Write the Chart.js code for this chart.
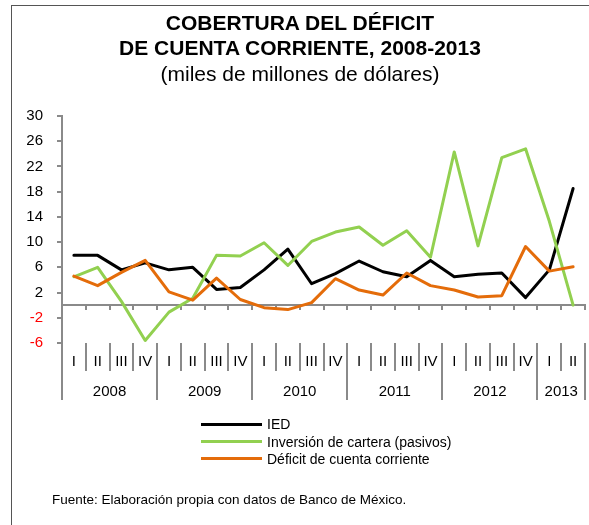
<!DOCTYPE html>
<html>
<head>
<meta charset="utf-8">
<script src="https://cdn.jsdelivr.net/npm/chart.js@4.4.1/dist/chart.umd.min.js"></script>
<style>
  html, body { margin: 0; padding: 0; background: #ffffff; }
  #wrap { position: relative; width: 589px; height: 525px; overflow: hidden; font-family: "Liberation Sans", Arial, sans-serif; color: #000; }
  #frame { position: absolute; left: 11px; top: 5px; width: 700px; height: 700px; border-left: 1px solid #555; border-top: 1px solid #555; }
  #c { position: absolute; left: 0; top: 0; }
  .tl { position: absolute; left: 0; width: 600px; text-align: center; white-space: nowrap; font-size: 21px; line-height: 26px; }
  .b { font-weight: bold; }
  .lg { position: absolute; left: 201px; height: 16px; white-space: nowrap; font-size: 14px; line-height: 16px; }
  .lg span.sw { position: absolute; left: 0; top: 6.5px; width: 61px; height: 3px; }
  .lg span.tx { position: absolute; left: 66px; top: 0; }
  #src { position: absolute; left: 52px; top: 492px; font-size: 13.5px; line-height: 16px; white-space: nowrap; }
</style>
</head>
<body>
<div id="wrap">
  <div id="frame"></div>
  <canvas id="c" width="589" height="525"></canvas>
  <div class="tl b" style="top:10px">COBERTURA DEL DÉFICIT</div>
  <div class="tl b" style="top:35px">DE CUENTA CORRIENTE, 2008-2013</div>
  <div class="tl" style="top:61px">(miles de millones de dólares)</div>
  <div id="legend"></div>
  <div id="src">Fuente: Elaboración propia con datos de Banco de México.</div>
</div>
<script>
// ---- data ----
const quarters = ["I","II","III","IV","I","II","III","IV","I","II","III","IV","I","II","III","IV","I","II","III","IV","I","II"];
const years = ["2008","2009","2010","2011","2012","2013"];
const quartersPerYear = [4,4,4,4,4,2];
const seriesNames = ["IED", "Inversión de cartera (pasivos)", "Déficit de cuenta corriente"];
const ied      = [7.9,7.9,5.6,6.7, 5.6,6.0,2.5,2.8, 5.6,8.9,3.4,5.0, 7.0,5.3,4.5,7.1, 4.5,4.9,5.1,1.2, 5.6,18.5];
const cartera  = [4.5,6.0,0.6,-5.6, -1.1,1.1,7.9,7.8, 9.9,6.3,10.1,11.6, 12.4,9.5,11.8,7.6, 24.3,9.4,23.4,24.8, 13.3,0.0];
const deficit  = [4.6,3.1,5.2,7.1, 2.1,0.8,4.3,0.9, -0.4,-0.7,0.4,4.2, 2.4,1.6,5.1,3.1, 2.4,1.3,1.5,9.3, 5.4,6.1];
const yMin = -6, yMax = 30, yStep = 4;

// ---- styles ----
const colors = ["#000000", "#92D050", "#E46C0A"];
const AXIS = "#8a8a8a";
const FONT = '"Liberation Sans", Arial, sans-serif';

// legend (HTML)
const lgTops = [416, 433.5, 450.5];
const lgEl = document.getElementById('legend');
seriesNames.forEach((n, i) => {
  const d = document.createElement('div');
  d.className = 'lg';
  d.style.top = lgTops[i] + 'px';
  d.innerHTML = '<span class="sw" style="background:' + colors[i] + '"></span><span class="tx"></span>';
  d.querySelector('.tx').textContent = n;
  lgEl.appendChild(d);
});

const groupLabels = {
  id: 'groupLabels',
  afterDraw(chart) {
    const { ctx, chartArea } = chart;
    const x = chart.scales.x;
    const n = chart.data.labels.length;
    const step = x.getPixelForValue(1) - x.getPixelForValue(0);
    const top = chartArea.bottom;
    const starts = new Set([0]);
    let acc = 0;
    quartersPerYear.forEach(c => { acc += c; starts.add(acc); });
    ctx.save();
    ctx.strokeStyle = AXIS;
    ctx.lineWidth = 2;
    for (let i = 0; i <= n; i++) {
      const bx = Math.round(x.getPixelForValue(i) - step / 2);
      ctx.beginPath();
      ctx.moveTo(bx, top);
      ctx.lineTo(bx, top + (starts.has(i) ? 57 : 28));
      ctx.stroke();
    }
    ctx.fillStyle = '#000';
    ctx.font = '15px ' + FONT;
    ctx.textAlign = 'center';
    ctx.textBaseline = 'middle';
    chart.data.labels.forEach((lb, i) => ctx.fillText(lb, x.getPixelForValue(i), top + 19));
    let s = 0;
    years.forEach((yr, k) => {
      const c = quartersPerYear[k];
      const cx = (x.getPixelForValue(s) + x.getPixelForValue(s + c - 1)) / 2;
      ctx.fillText(yr, cx, top + 48.5);
      s += c;
    });
    ctx.restore();
  }
};

const mk = (label, data, i, order) => ({
  label, data,
  borderColor: colors[i], backgroundColor: colors[i],
  borderWidth: 3, pointRadius: 0, tension: 0,
  borderJoinStyle: 'round', borderCapStyle: 'round',
  fill: false, order
});

new Chart(document.getElementById('c'), {
  type: 'line',
  data: {
    labels: quarters,
    datasets: [
      mk(seriesNames[0], ied, 0, 3),
      mk(seriesNames[1], cartera, 1, 2),
      mk(seriesNames[2], deficit, 2, 1)
    ]
  },
  options: {
    responsive: false,
    animation: false,
    layout: { padding: { left: 0, right: 4, top: 116, bottom: 182 } },
    plugins: { legend: { display: false }, tooltip: { enabled: false }, title: { display: false } },
    scales: {
      x: {
        type: 'category',
        position: { y: 0 },
        offset: true,
        grid: { offset: true, drawOnChartArea: false, drawTicks: true, tickLength: 4, color: AXIS, lineWidth: 2 },
        border: { display: true, color: AXIS, width: 2 },
        ticks: { display: false }
      },
      y: {
        min: yMin, max: yMax,
        afterFit(scale) { scale.width = 62; },
        grid: { drawOnChartArea: false, drawTicks: true, tickLength: 5, color: AXIS, lineWidth: 2 },
        border: { display: true, color: AXIS, width: 2 },
        ticks: {
          stepSize: yStep,
          padding: 14,
          font: { family: FONT, size: 15 },
          color: (c) => (c.tick && c.tick.value < 0) ? '#FF0000' : '#000000'
        }
      }
    }
  },
  plugins: [groupLabels]
});
</script>
</body>
</html>
